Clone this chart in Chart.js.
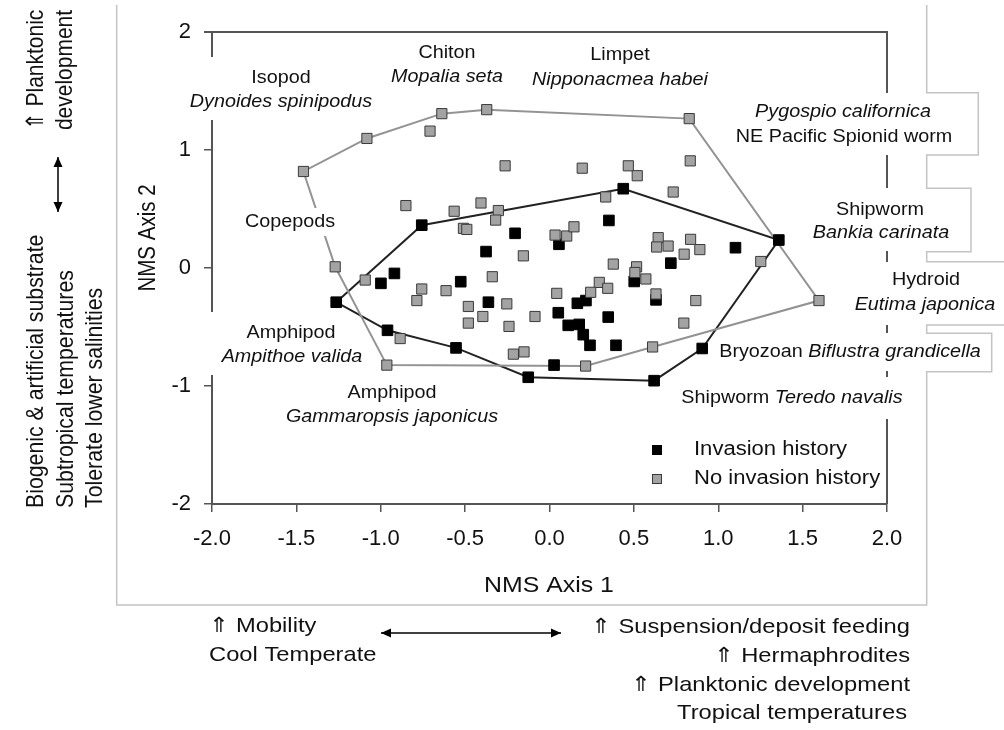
<!DOCTYPE html>
<html><head><meta charset="utf-8">
<script src="https://cdn.jsdelivr.net/npm/chart.js@4"></script>
<style>html,body{margin:0;padding:0;background:#fff;}#wrap{width:1004px;height:730px;position:relative;}</style>
</head><body><div id="wrap"><canvas id="c" width="1004" height="730"></canvas></div>
<script>
// ---------------- data ----------------
const seriesNames = ['Invasion history', 'No invasion history'];
const invasionX = [-0.757,-0.204,-0.376,0.437,0.352,0.056,1.359,1.102,0.719,-0.919,-0.999,-0.526,-0.362,-1.264,-0.960,-0.554,-0.126,0.502,0.165,0.216,0.631,0.052,0.348,0.111,0.176,0.200,0.240,0.394,0.905,0.620,0.027];
const invasionY = [0.363,0.294,0.139,0.672,0.403,0.201,0.237,0.172,0.041,-0.046,-0.130,-0.116,-0.290,-0.290,-0.528,-0.677,-0.926,-0.114,-0.299,-0.276,-0.270,-0.379,-0.416,-0.486,-0.478,-0.565,-0.655,-0.655,-0.682,-0.955,-0.823];
const noInvasionX = [-1.458,-1.082,-0.638,-0.372,-0.708,-0.263,-0.851,-0.565,-0.406,-0.303,-0.510,-0.490,-0.319,-0.155,-1.270,0.828,0.194,0.467,0.520,0.834,0.733,0.333,0.033,0.102,0.145,0.644,0.635,0.703,0.836,0.891,0.798,1.252,0.378,0.516,-1.092,-0.757,-0.786,-0.613,-0.339,-0.481,-0.395,-0.481,-0.253,-0.240,-0.086,-0.214,-0.151,-0.885,-0.964,0.506,0.571,0.295,0.345,0.244,0.043,0.631,0.867,0.796,1.597,0.611,0.214];
const noInvasionY = [0.818,1.098,1.308,1.342,1.160,0.866,0.529,0.481,0.551,0.487,0.336,0.327,0.406,0.103,0.010,1.266,0.846,0.866,0.782,0.908,0.644,0.602,0.279,0.271,0.349,0.257,0.178,0.186,0.243,0.156,0.117,0.055,0.033,0.010,-0.102,-0.178,-0.276,-0.192,-0.074,-0.326,-0.411,-0.467,-0.304,-0.495,-0.411,-0.730,-0.711,-0.598,-0.823,-0.038,-0.093,-0.122,-0.172,-0.206,-0.215,-0.220,-0.276,-0.467,-0.276,-0.669,-0.831];
// convex hull vertices (indices into the arrays above)
const invasionHull = [13,0,3,6,28,29,16,15,14,13];
const noInvasionHull = [14,0,1,2,3,15,58,59,60,48,14];
const xTickLabels = ['-2.0','-1.5','-1.0','-0.5','0.0','0.5','1.0','1.5','2.0'];
const yTickLabels = ['-2','-1','0','1','2'];
const xTitle = 'NMS Axis 1';
const yTitle = 'NMS Axis 2';

// ---------------- helpers ----------------
const FONT = '"Liberation Sans", Arial, sans-serif';
const SX = 1.13;            // horizontal stretch of the original figure
const INK = '#111';
const pts = (xs, ys) => xs.map((x, i) => ({x, y: ys[i]}));
const hull = (xs, ys, idx) => idx.map(i => ({x: xs[i], y: ys[i]}));

function fontStr(size, italic) { return (italic ? 'italic ' : '') + size + 'px ' + FONT; }
function runsWidth(ctx, runs, size) {
  let w = 0;
  runs.forEach(r => { ctx.font = fontStr(size, r.i); w += ctx.measureText(r.t).width; });
  return w;
}
function drawRuns(ctx, runs, x, y, size, align, rot) {
  ctx.save();
  ctx.translate(x, y);
  ctx.scale(SX, 1);
  if (rot) ctx.rotate(-Math.PI / 2);
  const w = runsWidth(ctx, runs, size);
  let cx = align === 'center' ? -w / 2 : align === 'right' ? -w : 0;
  ctx.fillStyle = INK;
  ctx.textBaseline = 'middle';
  ctx.textAlign = 'left';
  runs.forEach(r => {
    ctx.font = fontStr(size, r.i);
    ctx.fillText(r.t, cx, 0);
    cx += ctx.measureText(r.t).width;
  });
  ctx.restore();
}
function R(t) { return {t, i: false}; }
function I(t) { return {t, i: true}; }

function arrowHead(ctx, x, y, ang) {
  const L = 10, W = 4.5;
  ctx.beginPath();
  ctx.moveTo(x, y);
  ctx.lineTo(x - L * Math.cos(ang) + W * Math.sin(ang), y - L * Math.sin(ang) - W * Math.cos(ang));
  ctx.lineTo(x - L * Math.cos(ang) - W * Math.sin(ang), y - L * Math.sin(ang) + W * Math.cos(ang));
  ctx.closePath();
  ctx.fill();
}
function doubleArrow(ctx, x1, y1, x2, y2) {
  ctx.save();
  ctx.strokeStyle = '#000'; ctx.fillStyle = '#000'; ctx.lineWidth = 1.5;
  ctx.beginPath(); ctx.moveTo(x1, y1); ctx.lineTo(x2, y2); ctx.stroke();
  const a = Math.atan2(y2 - y1, x2 - x1);
  arrowHead(ctx, x2, y2, a);
  arrowHead(ctx, x1, y1, a + Math.PI);
  ctx.restore();
}

// ---------------- annotation layout ----------------
// white text-box backgrounds that interrupt the plot border / hull line
const whiteBoxes = [
  [200, 57, 25, 63], [200, 312, 25, 63], [243, 208, 95, 28],
  [878, 93, 20, 62], [878, 188, 20, 63], [878, 262, 20, 63],
  [878, 333, 20, 38], [878, 377, 20, 42]
];
const LBL = 17.5;
const plotLabels = [
  {r:[R('Isopod')], x:281, y:78},
  {r:[I('Dynoides spinipodus')], x:281, y:102},
  {r:[R('Chiton')], x:447, y:53},
  {r:[I('Mopalia seta')], x:447, y:77},
  {r:[R('Limpet')], x:620, y:55},
  {r:[I('Nipponacmea habei')], x:620, y:80},
  {r:[I('Pygospio californica')], x:843, y:112},
  {r:[R('NE Pacific Spionid worm')], x:844, y:137},
  {r:[R('Shipworm')], x:880, y:210},
  {r:[I('Bankia carinata')], x:881, y:233},
  {r:[R('Hydroid')], x:926, y:280},
  {r:[I('Eutima japonica')], x:925, y:305},
  {r:[R('Bryozoan '), I('Biflustra grandicella')], x:850, y:352},
  {r:[R('Shipworm '), I('Teredo navalis')], x:792, y:398},
  {r:[R('Copepods')], x:290, y:222},
  {r:[R('Amphipod')], x:291, y:333},
  {r:[I('Ampithoe valida')], x:292, y:357},
  {r:[R('Amphipod')], x:392, y:393},
  {r:[I('Gammaropsis japonicus')], x:392, y:417}
];
// outer frame (stepped around the right-hand labels)
const framePath = [[116.7,5],[116.7,605],[926.7,605],[926.7,371.7],[991.7,371.7],[991.7,333.3],[926.7,333.3],[926.7,325],[1010,325],[1010,261.7],[926.7,261.7],[926.7,251.7],[971,251.7],[971,188.3],[926.7,188.3],[926.7,155],[978.3,155],[978.3,92.7],[926.7,92.7],[926.7,5]];

const plotBorder = {
  id: 'plotBorder',
  beforeDatasetsDraw(chart) {
    const {ctx, chartArea: a} = chart;
    ctx.save();
    ctx.strokeStyle = '#555'; ctx.lineWidth = 2;
    ctx.beginPath();
    ctx.moveTo(a.left - 8, a.top); ctx.lineTo(a.right, a.top); ctx.lineTo(a.right, a.bottom);
    ctx.stroke();
    ctx.restore();
  }
};

const annotations = {
  id: 'annotations',
  afterDatasetsDraw(chart) {
    const ctx = chart.ctx;
    ctx.save();
    ctx.fillStyle = '#fff';
    whiteBoxes.forEach(b => ctx.fillRect(b[0], b[1], b[2], b[3]));
    ctx.restore();
    plotLabels.forEach(l => drawRuns(ctx, l.r, l.x, l.y, LBL, 'center'));

    // legend
    const ds = chart.data.datasets;
    const leg = [{d: ds[0], y: 450}, {d: ds[1], y: 479}];
    leg.forEach(e => {
      ctx.save();
      ctx.fillStyle = e.d.backgroundColor; ctx.strokeStyle = e.d.borderColor; ctx.lineWidth = 1;
      ctx.fillRect(652.5, e.y - 4.5, 9, 9); ctx.strokeRect(652.5, e.y - 4.5, 9, 9);
      ctx.restore();
      drawRuns(ctx, [R(e.d.label)], 694, e.y, 19.5, 'left');
    });

    // axis titles
    drawRuns(ctx, [R(xTitle)], 549, 586, 22, 'center');
    drawRuns(ctx, [R(yTitle)], 149, 238, 20.5, 'center', true);

    // left side interpretation
    drawRuns(ctx, [R('\u21D1 Planktonic')], 36, 70, 21, 'center', true);
    drawRuns(ctx, [R('development')], 65, 70, 21, 'center', true);
    drawRuns(ctx, [R('Biogenic & artificial substrate')], 36, 508, 21.3, 'left', true);
    drawRuns(ctx, [R('Subtropical temperatures')], 66, 508, 21.3, 'left', true);
    drawRuns(ctx, [R('Tolerate lower salinities')], 95, 508, 21.3, 'left', true);
    doubleArrow(ctx, 58, 157, 58, 212);

    // bottom interpretation
    drawRuns(ctx, [R('\u21D1 Mobility')], 209, 626, 21, 'left');
    drawRuns(ctx, [R('Cool Temperate')], 209, 655, 21, 'left');
    drawRuns(ctx, [R('\u21D1 Suspension/deposit feeding')], 910, 627, 21, 'right');
    drawRuns(ctx, [R('\u21D1 Hermaphrodites')], 910, 656, 21, 'right');
    drawRuns(ctx, [R('\u21D1 Planktonic development')], 910, 685, 21, 'right');
    drawRuns(ctx, [R('Tropical temperatures')], 907, 713, 21, 'right');
    doubleArrow(ctx, 381, 633, 561, 633);

    // frame
    ctx.save();
    ctx.strokeStyle = '#c4c4c4'; ctx.lineWidth = 1.5;
    ctx.beginPath();
    framePath.forEach((p, i) => i ? ctx.lineTo(p[0], p[1]) : ctx.moveTo(p[0], p[1]));
    ctx.stroke();
    ctx.restore();
  }
};

const tickFont = {family: FONT, size: 22};
new Chart(document.getElementById('c'), {
  type: 'scatter',
  data: {
    datasets: [
      {label: seriesNames[0], data: pts(invasionX, invasionY), pointStyle: 'rect', pointRadius: 7.5,
       backgroundColor: '#000', borderColor: '#000', borderWidth: 1, order: 1},
      {label: seriesNames[1], data: pts(noInvasionX, noInvasionY), pointStyle: 'rect', pointRadius: 7.2,
       backgroundColor: '#a3a3a3', borderColor: '#3a3a3a', borderWidth: 1, order: 0},
      {label: 'hull1', data: hull(invasionX, invasionY, invasionHull), showLine: true,
       pointRadius: 0, borderColor: '#222', borderWidth: 2, tension: 0, order: 3},
      {label: 'hull2', data: hull(noInvasionX, noInvasionY, noInvasionHull), showLine: true,
       pointRadius: 0, borderColor: '#939393', borderWidth: 2, tension: 0, order: 2}
    ]
  },
  options: {
    responsive: false, animation: false, devicePixelRatio: 1,
    layout: {padding: {left: 0, top: 32, right: 117, bottom: 126}},
    plugins: {legend: {display: false}, tooltip: {enabled: false}},
    scales: {
      x: {type: 'linear', position: 'bottom', min: -2, max: 2,
          ticks: {stepSize: 0.5, autoSkip: false, maxRotation: 0, padding: 14, color: INK, font: tickFont,
                  callback: (v, i) => xTickLabels[i]},
          grid: {drawOnChartArea: false, drawTicks: true, tickLength: 8, color: '#555', lineWidth: 1.5},
          border: {display: true, color: '#555', width: 2},
          afterFit: s => { s.height = 100; }},
      y: {type: 'linear', position: 'left', min: -2, max: 2,
          ticks: {stepSize: 1, padding: 13, color: INK, font: tickFont,
                  callback: (v, i) => yTickLabels[i]},
          grid: {drawOnChartArea: false, drawTicks: true, tickLength: 8, color: '#555', lineWidth: 1.5},
          border: {display: true, color: '#555', width: 2},
          afterFit: s => { s.width = 212; }}
    }
  },
  plugins: [plotBorder, annotations]
});
</script></body></html>
